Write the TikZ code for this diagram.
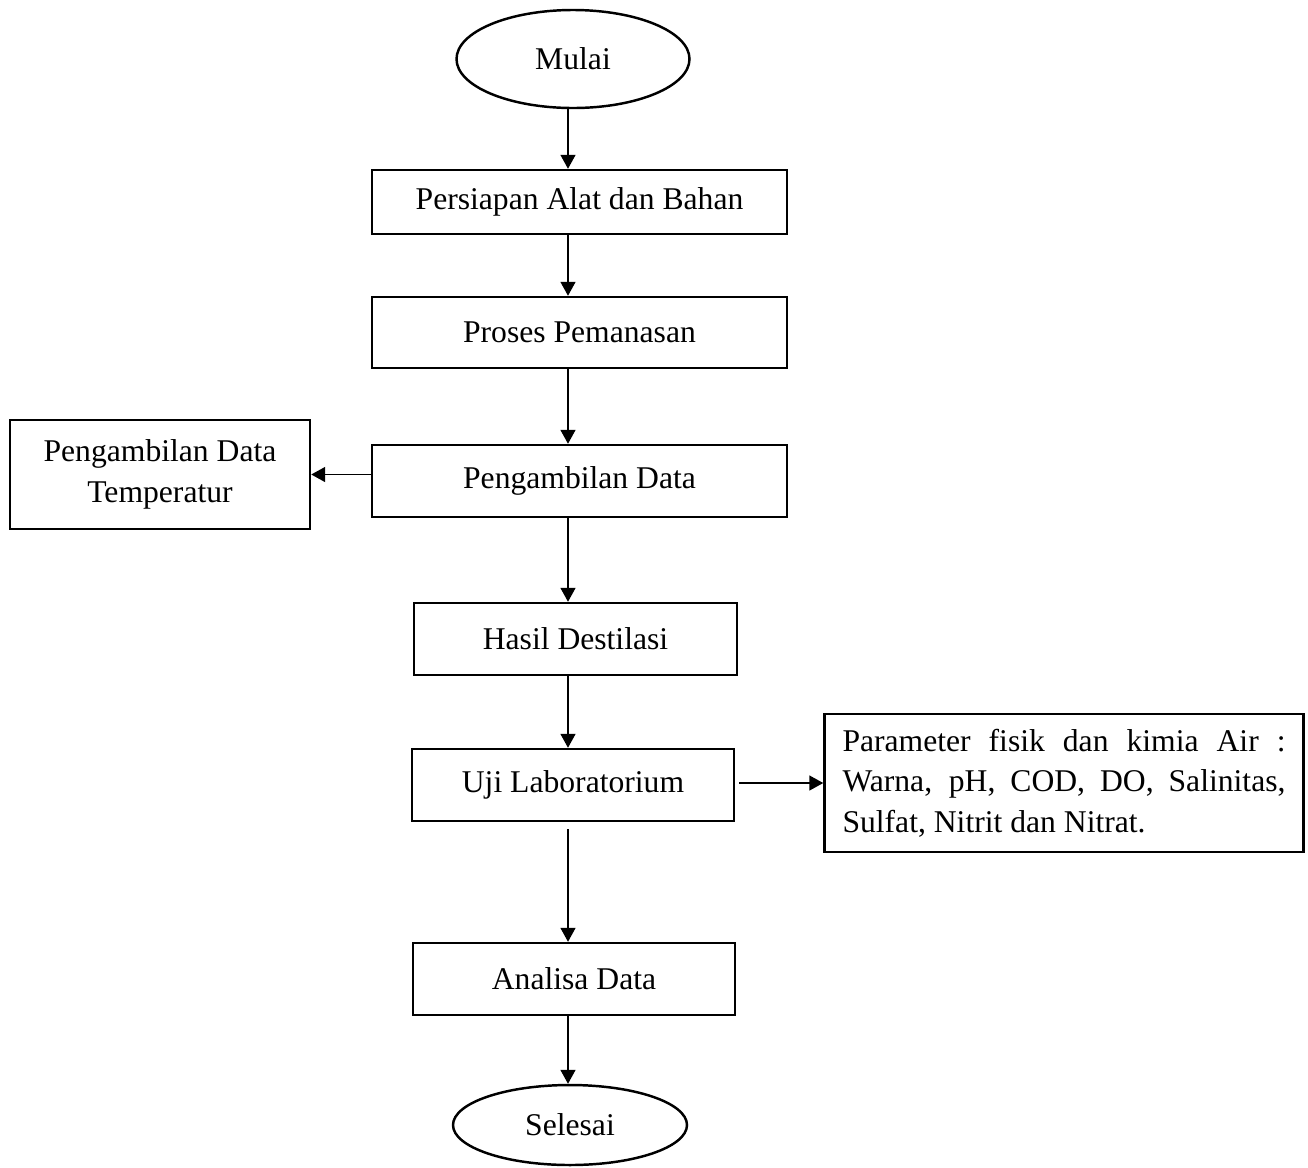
\documentclass[tikz,border=0pt]{standalone}
\usepackage{fontspec}
\setmainfont{Liberation Serif}
\usetikzlibrary{arrows.meta, positioning, shapes.geometric}

\begin{document}
\begin{tikzpicture}[
    x=0.2mm, y=-0.2mm,
    box/.style={draw, line width=1.4pt, minimum width=#1, minimum height=14.4mm,
                inner sep=0pt, align=center, font=\fontsize{18}{23}\selectfont},
    box/.default=64.4mm,
    term/.style={draw, ellipse, line width=1.4pt, minimum width=46.6mm, inner sep=0pt,
                 font=\fontsize{18}{23}\selectfont},
    arr/.style={-{Triangle[length=2.8mm, width=3mm]}, line width=0.9pt},
]
\useasboundingbox (0,0) rectangle (1308,1167);

% Main column
\node[term, minimum height=19.6mm]        (mulai)     at (573,59)      {Mulai};
\node[box=83mm, minimum height=12.8mm]    (persiapan) at (579.5,202)   {Persiapan Alat dan Bahan};
\node[box=83mm, minimum height=14.2mm]    (proses)    at (579.5,332.5) {Proses Pemanasan};
\node[box=83mm]                           (ambil)     at (579.5,481)   {Pengambilan Data};
\node[box=64.6mm]                         (hasil)     at (575.5,639)   {Hasil Destilasi};
\node[box]                                (uji)       at (573,785)     {Uji Laboratorium};
\node[box]                                (analisa)   at (574,979)     {Analisa Data};
\node[term, minimum width=46.8mm, minimum height=16mm] (selesai) at (570,1125) {Selesai};

% Side boxes
\node[box=60mm, minimum height=21.8mm]    (temp)      at (160,474.5)   {Pengambilan Data\\Temperatur};
\node[box=95.8mm, minimum height=27.6mm, align=left] (param) at (1064,783)
    {\makebox[88.6mm][s]{Parameter fisik dan kimia Air :}\\
     \makebox[88.6mm][s]{Warna, pH, COD, DO, Salinitas,}\\
     Sulfat, Nitrit dan Nitrat.};

% Arrows
\coordinate (axis) at (568,0);
\draw[arr] (mulai.south -| axis)     -- (persiapan.north -| axis);
\draw[arr] (persiapan.south -| axis) -- (proses.north -| axis);
\draw[arr] (proses.south -| axis)    -- (ambil.north -| axis);
\draw[arr] (ambil.west |- temp.east) -- (temp.east);
\draw[arr] (ambil.south -| axis)     -- (hasil.north -| axis);
\draw[arr] (hasil.south -| axis)     -- (uji.north -| axis);
\draw[arr, shorten <=0.8mm] (uji.east |- param.west) -- (param.west);
\draw[arr, shorten <=1.4mm] (uji.south -| axis) -- (analisa.north -| axis);
\draw[arr] (analisa.south -| axis)   -- (selesai.north -| axis);
\end{tikzpicture}
\end{document}
